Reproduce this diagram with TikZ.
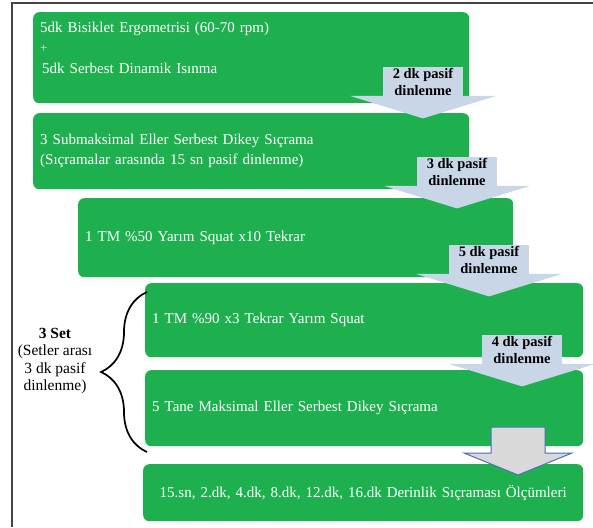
\documentclass[tikz,border=0pt]{standalone}
\usepackage{fontspec}
\setmainfont{Liberation Serif}
\usetikzlibrary{calc,positioning,decorations.pathreplacing}
\definecolor{StepGreen}{HTML}{1EB04F}
\definecolor{RestBlue}{HTML}{C9D6E8}
\definecolor{EndGray}{HTML}{D9D9D9}
\definecolor{EndBlue}{HTML}{4A6FB5}
\definecolor{FrameGray}{HTML}{444444}

\begin{document}
\begin{tikzpicture}[
    x=1pt, y=-1pt,
    font=\fontsize{15}{20}\selectfont,
    stepbox/.style={fill=StepGreen, rounded corners=6pt, text=white, anchor=north west, align=left, inner xsep=7pt, inner ysep=0pt},
    restlbl/.style={fill=RestBlue, font=\fontsize{14.5}{17}\selectfont\bfseries, align=center, minimum width=80pt, minimum height=29pt, inner sep=0pt, anchor=north},
    resthead/.style={fill=RestBlue},
    endarrow/.style={fill=EndGray, draw=EndBlue, line width=1pt},
    setbrace/.style={decorate, decoration={brace, amplitude=46pt}, line width=1.7pt},
    setlbl/.style={align=center, font=\fontsize{15.5}{17.5}\selectfont},
    frame/.style={draw=FrameGray, line width=1.3pt}
]
\useasboundingbox (0,0) rectangle (593,527);
\draw[frame] (12,527) -- (12,3) -- (593,3);

% protocol steps
\node[stepbox, minimum height=91pt, text width=422pt, font=\fontsize{15}{20.5}\selectfont] (warm) at (33,12)
    {5dk Bisiklet Ergometrisi (60-70 rpm)\\{\fontsize{13}{20.5}\selectfont\color{white!80!StepGreen}+}\\\hspace{2pt}5dk Serbest Dinamik Isınma\\\mbox{}};
\node[stepbox, minimum height=76pt, text width=422pt] (submax) at (33,113)
    {3 Submaksimal Eller Serbest Dikey Sıçrama\\(Sıçramalar arasında 15 sn pasif dinlenme)};
\node[stepbox, minimum height=79pt, text width=421pt] (half) at (78,198) {1 TM \%50 Yarım Squat x10 Tekrar};
\node[stepbox, minimum height=74pt, text width=424pt] (heavy) at (145,283) {1 TM \%90 x3 Tekrar Yarım Squat};
\node[stepbox, minimum height=76pt, text width=424pt] (maxjump) at (145,370) {5 Tane Maksimal Eller Serbest Dikey Sıçrama};
\node[stepbox, minimum height=57pt, text width=426pt, align=center] (depth) at (143,464)
    {15.sn, 2.dk, 4.dk, 8.dk, 12.dk, 16.dk Derinlik Sıçraması Ölçümleri};

% rest arrows
\foreach \nm/\px/\py/\mins in {r1/423/67/2, r2/457/157/3, r3/489/245/5, r4/522/335/4}{
    \node[restlbl] (\nm) at (\px,\py) {\mins\ dk pasif\\dinlenme};
    \fill[resthead] ($(\nm.south)+(-73,-0.5)$) -- ($(\nm.south)+(73,-0.5)$) -- ($(\nm.south)+(0,22)$) -- cycle;
}

% last arrow
\coordinate (endtop) at (518,427);
\draw[endarrow] ($(endtop)+(-27,0)$) -- ($(endtop)+(27,0)$) -- ($(endtop)+(27,26)$) -- ($(endtop)+(54,26)$)
    -- ($(endtop)+(0,48)$) -- ($(endtop)+(-54,26)$) -- ($(endtop)+(-27,26)$) -- cycle;

% set brace
\coordinate (bb) at (147,452);
\coordinate (bt) at (147,292);
\draw[setbrace] (bb) -- (bt);
\node[setlbl] (sets) at (55,361) {\textbf{3 Set}\\(Setler arası\\3 dk pasif\\dinlenme)};
\end{tikzpicture}
\end{document}
